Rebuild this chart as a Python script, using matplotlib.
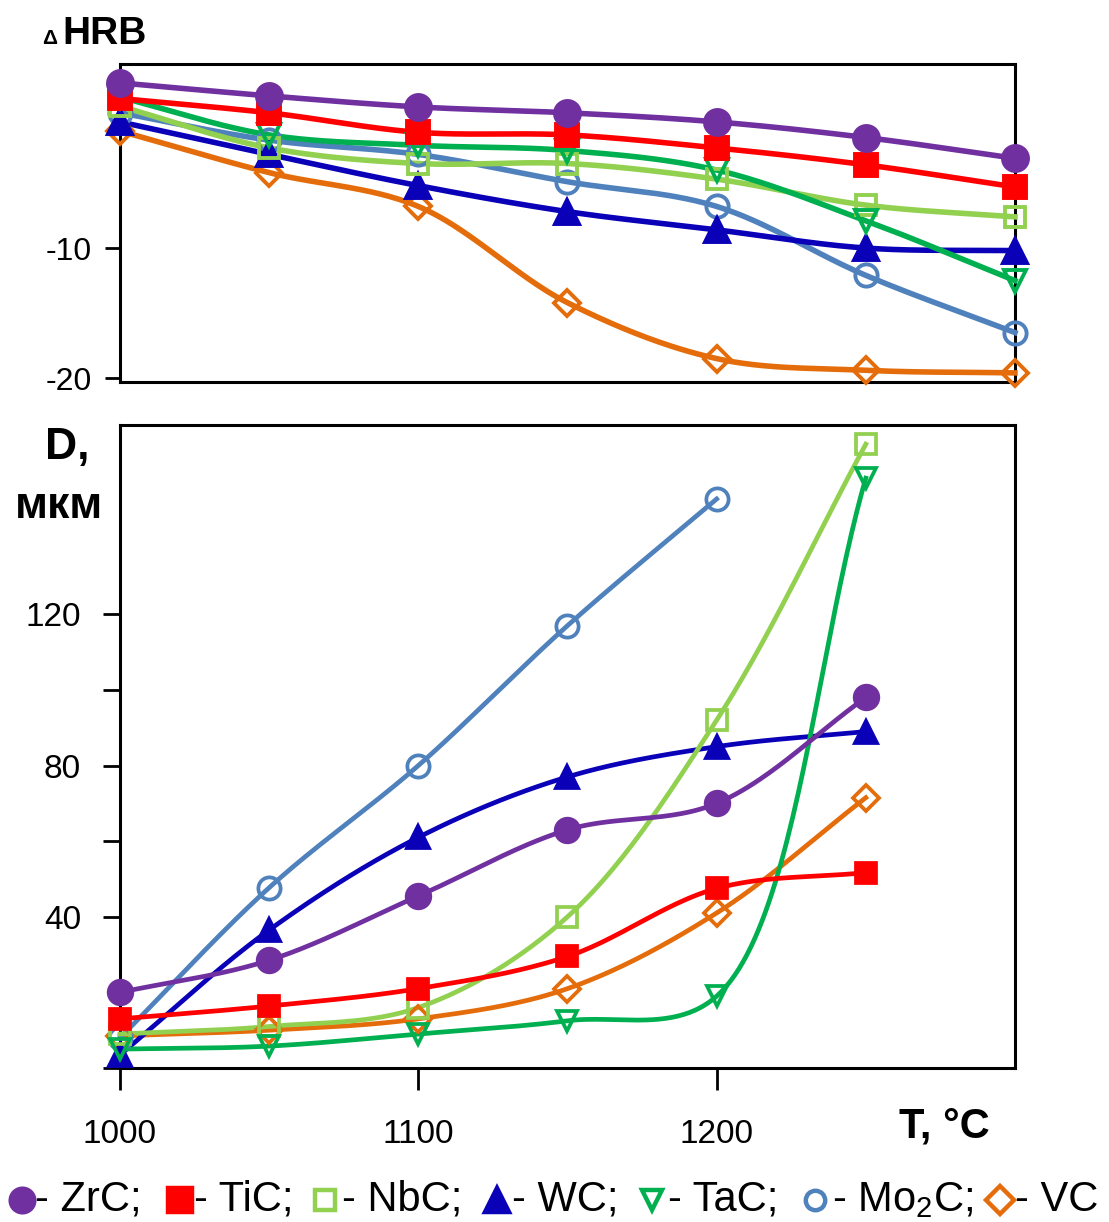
import numpy as np
import matplotlib.pyplot as plt
from matplotlib.lines import Line2D

plt.rcParams['font.family'] = ['Liberation Sans', 'DejaVu Sans']
plt.rcParams['mathtext.fontset'] = 'custom'
plt.rcParams['mathtext.rm'] = 'Liberation Sans'
plt.rcParams['mathtext.it'] = 'Liberation Sans:italic'
plt.rcParams['mathtext.bf'] = 'Liberation Sans:bold'
plt.rcParams['axes.unicode_minus'] = False

# temperatures, deg C
temps_top = [1000, 1050, 1100, 1150, 1200, 1250, 1300]
temps_bot = [1000, 1050, 1100, 1150, 1200, 1250]

# hardness change, HRB
hrb_zrc = [2.7, 1.7, 0.85, 0.4, -0.3, -1.5, -3.1]
hrb_tic = [1.5, 0.4, -1.1, -1.3, -2.3, -3.6, -5.3]
hrb_nbc = [0.9, -2.3, -3.5, -3.5, -4.7, -6.7, -7.6]
hrb_wc = [-0.3, -2.8, -5.2, -7.2, -8.6, -10.0, -10.2]
hrb_tac = [1.6, -1.3, -2.1, -2.5, -4.0, -7.9, -12.5]
hrb_mo2c = [0.4, -1.7, -2.8, -4.9, -6.8, -12.1, -16.5]
hrb_vc = [-1.0, -4.2, -6.8, -14.2, -18.5, -19.4, -19.6]

# grain size D, mkm
d_zrc = [20, 28.5, 45.5, 63, 70, 98]
d_tic = [13, 16.4, 21, 29.5, 47.5, 51.7]
d_nbc = [9, 11, 16, 40, 92, 165]
d_wc = [3.5, 36.5, 61, 77, 85, 89]
d_tac = [5, 5.8, 9, 12.5, 19, 156]
d_mo2c = [8, 47.7, 80, 117, 150.5]
d_vc = [8.5, 10, 13, 21, 41, 71.5]

names = ['ZrC', 'TiC', 'NbC', 'WC', 'TaC', 'Mo$_2$C', 'VC']
colors = ['#7030A0', '#FF0000', '#92D050', '#0A00B8', '#00B050', '#4F81BD', '#E46C0A']
markers = ['o', 's', 's', '^', 'v', 'o', 'D']
filled = [True, True, False, True, False, False, False]
hrb_all = [hrb_zrc, hrb_tic, hrb_nbc, hrb_wc, hrb_tac, hrb_mo2c, hrb_vc]
d_all = [d_zrc, d_tic, d_nbc, d_wc, d_tac, d_mo2c, d_vc]


def smooth(ax, x, y, n=50, alpha=0.5):
    # centripetal catmull-rom, worked out in screen pixels
    fig = ax.figure
    pos = ax.get_position()
    x0, x1 = ax.get_xlim()
    y0, y1 = ax.get_ylim()
    sx = pos.width * fig.get_figwidth() * fig.dpi / (x1 - x0)
    sy = pos.height * fig.get_figheight() * fig.dpi / (y1 - y0)
    p = np.column_stack([np.asarray(x, float) * sx, np.asarray(y, float) * sy])
    p = np.vstack([2 * p[0] - p[1], p, 2 * p[-1] - p[-2]])
    out = []
    for i in range(1, len(p) - 2):
        P0, P1, P2, P3 = p[i - 1], p[i], p[i + 1], p[i + 2]
        t0 = 0.0
        t1 = t0 + np.linalg.norm(P1 - P0) ** alpha
        t2 = t1 + np.linalg.norm(P2 - P1) ** alpha
        t3 = t2 + np.linalg.norm(P3 - P2) ** alpha
        t = np.linspace(t1, t2, n)[:, None]
        A1 = (t1 - t) / (t1 - t0) * P0 + (t - t0) / (t1 - t0) * P1
        A2 = (t2 - t) / (t2 - t1) * P1 + (t - t1) / (t2 - t1) * P2
        A3 = (t3 - t) / (t3 - t2) * P2 + (t - t2) / (t3 - t2) * P3
        B1 = (t2 - t) / (t2 - t0) * A1 + (t - t0) / (t2 - t0) * A2
        B2 = (t3 - t) / (t3 - t1) * A2 + (t - t1) / (t3 - t1) * A3
        C = (t2 - t) / (t2 - t1) * B1 + (t - t1) / (t2 - t1) * B2
        out.append(C if i == 1 else C[1:])
    out = np.vstack(out)
    return out[:, 0] / sx, out[:, 1] / sy


fig = plt.figure(figsize=(11.09, 12.22), dpi=100)
ax1 = fig.add_axes([0.1082, 0.6874, 0.807, 0.2602])
ax2 = fig.add_axes([0.1082, 0.126, 0.807, 0.526])

for ax in (ax1, ax2):
    for s in ax.spines.values():
        s.set_linewidth(2.2)
    ax.set_xlim(1000, 1300)
ax1.set_ylim(-20.3, 4.15)
ax2.set_ylim(0, 170)

order = [6, 5, 3, 2, 4, 1, 0]
for i in order:
    mfc = colors[i] if filled[i] else 'none'
    xs, ys = smooth(ax1, temps_top, hrb_all[i])
    ax1.plot(xs, ys, color=colors[i], lw=4.0, clip_on=False, zorder=3)
    ms = {'o': 18 if filled[i] else 16, 's': 16 if filled[i] else 15,
          '^': 17, 'v': 16, 'D': 13}[markers[i]]
    ax1.plot(temps_top, hrb_all[i], ls='none', marker=markers[i], ms=ms,
             mfc=mfc, mec=colors[i], mew=2.8, clip_on=False, zorder=4)

    tb = temps_bot[:len(d_all[i])]
    xs, ys = smooth(ax2, tb, d_all[i])
    ax2.plot(xs, ys, color=colors[i], lw=3.4, clip_on=False, zorder=3)
    ms = {'o': 17 if filled[i] else 16, 's': 15 if filled[i] else 15,
          '^': 16, 'v': 15, 'D': 13}[markers[i]]
    ax2.plot(tb, d_all[i], ls='none', marker=markers[i], ms=ms,
             mfc=mfc, mec=colors[i], mew=2.7, clip_on=False, zorder=4)

ax1.set_xticks([])
ax1.set_yticks([-10, -20])
ax1.tick_params(axis='y', direction='out', length=11, width=2, labelsize=23, pad=9)

ax2.set_xticks([1000, 1100, 1200])
ax2.set_yticks([0, 40, 60, 80, 100, 120])
ax2.set_yticklabels(['', '40', '', '80', '', '120'])
ax2.tick_params(axis='x', direction='out', length=16, width=2, labelsize=24, pad=21)
ax2.tick_params(axis='y', direction='out', length=12, width=2, labelsize=24, pad=16)

fig.text(0.038, 0.964, 'Δ', fontsize=15, fontweight='bold', va='baseline')
fig.text(0.056, 0.964, 'HRB', fontsize=28, fontweight='bold', va='baseline')
fig.text(0.041, 0.624, 'D,', fontsize=32, fontweight='bold', va='baseline')
fig.text(0.013, 0.576, 'мкм', fontsize=32, fontweight='bold', va='baseline')
fig.text(0.811, 0.069, 'T, °C', fontsize=30, fontweight='bold', va='baseline')

# legend row along the bottom
leg_mark_x = [22, 180, 325, 497, 652, 815, 1000]
leg_text_x = [35, 194, 342, 512, 668, 832, 1015]
leg_y = 1 - 1200 / 1222
for i in range(len(names)):
    mfc = colors[i] if filled[i] else 'none'
    fig.add_artist(Line2D([leg_mark_x[i] / 1109], [leg_y], transform=fig.transFigure,
                          ls='none', marker=markers[i], ms=17 if filled[i] else 14,
                          mfc=mfc, mec=colors[i], mew=3.2))
    lab = '- ' + names[i] + (';' if i < len(names) - 1 else '')
    fig.text(leg_text_x[i] / 1109, leg_y, lab, fontsize=30, va='center')

fig.savefig('out.png', dpi=100)
